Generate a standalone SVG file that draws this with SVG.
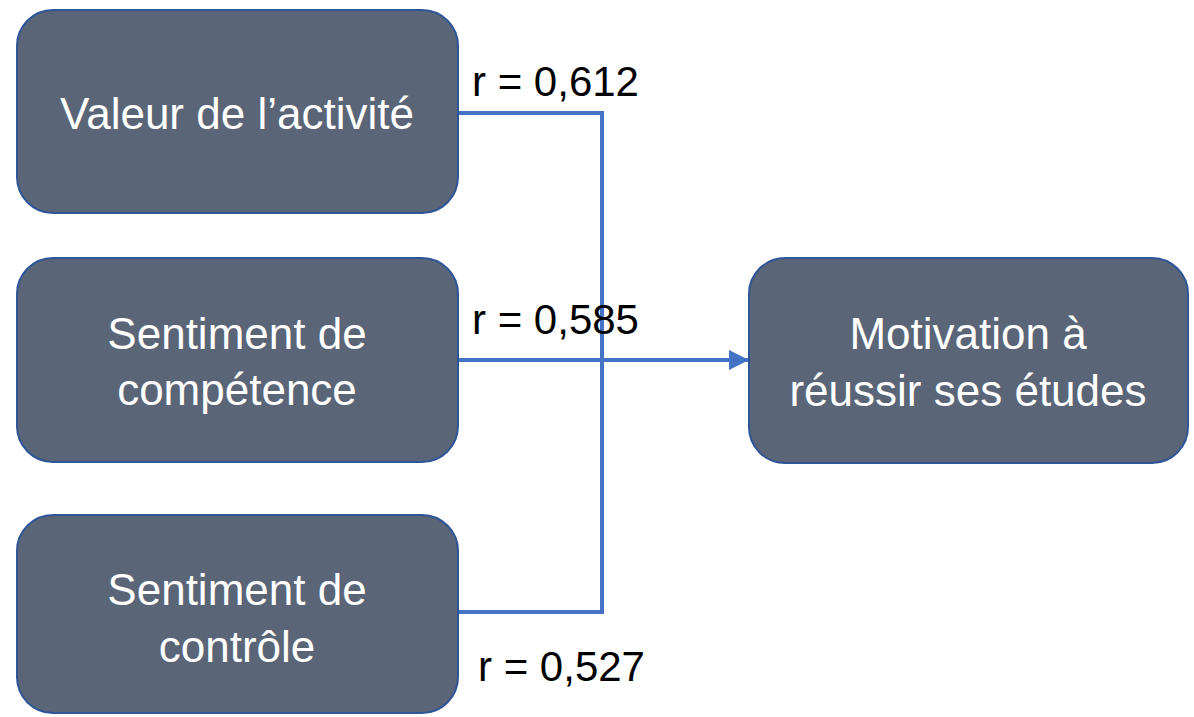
<svg xmlns="http://www.w3.org/2000/svg" width="1194" height="717" viewBox="0 0 1194 717">
<defs>
<style>
.box{fill:#5A6577;stroke:#2F5597;stroke-width:2}
.t{font-family:"Liberation Sans",Arial,sans-serif;font-size:44px;fill:#FFFFFF;text-anchor:middle}
.r{font-family:"Liberation Sans",Arial,sans-serif;font-size:42px;fill:#000000}
.c{fill:none;stroke:#4472C4;stroke-width:4}
</style>
<marker id="arr" markerWidth="5" markerHeight="5" refX="5" refY="2.5" orient="auto" markerUnits="strokeWidth">
<path d="M0,0 L5,2.5 L0,5 z" fill="#4472C4"/>
</marker>
</defs>
<rect width="1194" height="717" fill="#FFFFFF"/>
<g id="connectors">
<polyline class="c" points="458,113 602,113 602,612 458,612"/>
<line class="c" x1="458" y1="360" x2="749" y2="360" marker-end="url(#arr)"/>
</g>
<g id="node-valeur">
<rect class="box" x="17" y="10" width="441" height="203" rx="36"/>
<text class="t" x="237" y="129">Valeur de l’activité</text>
</g>
<g id="node-competence">
<rect class="box" x="17" y="258" width="441" height="204" rx="36"/>
<text class="t" x="237" y="349">Sentiment de</text>
<text class="t" x="237" y="405">compétence</text>
</g>
<g id="node-controle">
<rect class="box" x="17" y="515" width="441" height="198" rx="36"/>
<text class="t" x="237" y="605">Sentiment de</text>
<text class="t" x="237" y="662">contrôle</text>
</g>
<g id="node-motivation">
<rect class="box" x="749" y="258" width="439" height="205" rx="36"/>
<text class="t" x="968" y="349">Motivation à</text>
<text class="t" x="968" y="406">réussir ses études</text>
</g>
<g id="labels">
<text class="r" x="472" y="96">r = 0,612</text>
<text class="r" x="472" y="334">r = 0,585</text>
<text class="r" x="478" y="681">r = 0,527</text>
</g>
</svg>
